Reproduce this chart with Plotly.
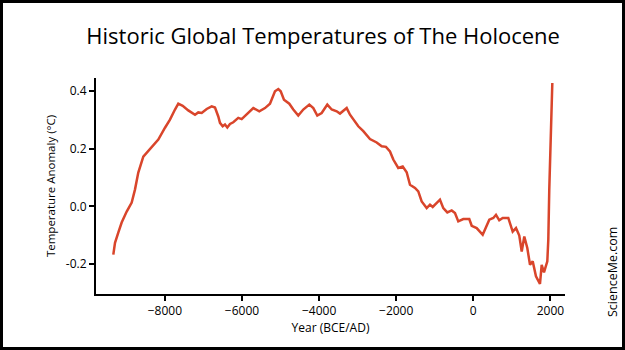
import plotly.graph_objects as go

years = [-9338, -9294, -9209, -9121, -8991, -8861, -8776, -8690, -8560, -8472,
         -8342, -8171, -7997, -7868, -7738, -7652, -7538, -7393, -7219, -7134,
         -7045, -6916, -6786, -6700, -6615, -6571, -6501, -6441, -6381, -6311,
         -6226, -6096, -6008, -5878, -5707, -5551, -5403, -5274, -5144, -5058,
         -4996, -4911, -4773, -4669, -4540, -4410, -4254, -4150, -4047, -3933,
         -3787, -3673, -3543, -3458, -3284, -3198, -2983, -2853, -2680, -2506,
         -2376, -2265, -2161, -2075, -1946, -1831, -1728, -1642, -1512, -1427,
         -1339, -1209, -1123, -1053, -934, -864, -778, -674, -560, -475,
         -389, -259, -104, -41, 88, 244, 415, 519, 589, 674,
         763, 908, 1022, 1108, 1193, 1256, 1323, 1401, 1471, 1541,
         1626, 1730, 1774, 1834, 1920, 1946, 1971, 2050]

anomaly = [-0.167, -0.126, -0.091, -0.056, -0.018, 0.013, 0.058, 0.117, 0.172, 0.186,
           0.203, 0.231, 0.272, 0.300, 0.335, 0.355, 0.348, 0.332, 0.317, 0.325,
           0.323, 0.337, 0.346, 0.342, 0.311, 0.289, 0.277, 0.283, 0.273, 0.285,
           0.291, 0.306, 0.302, 0.317, 0.340, 0.329, 0.340, 0.355, 0.398, 0.406,
           0.398, 0.369, 0.355, 0.335, 0.314, 0.335, 0.352, 0.340, 0.314, 0.323,
           0.352, 0.335, 0.329, 0.321, 0.340, 0.317, 0.277, 0.260, 0.233, 0.221,
           0.208, 0.206, 0.190, 0.162, 0.133, 0.138, 0.118, 0.075, 0.064, 0.052,
           0.017, -0.006, 0.006, -0.002, 0.012, 0.023, -0.006, -0.021, -0.014, -0.023,
           -0.052, -0.044, -0.044, -0.067, -0.075, -0.098, -0.046, -0.040, -0.029, -0.048,
           -0.040, -0.040, -0.087, -0.075, -0.101, -0.156, -0.104, -0.144, -0.202, -0.190,
           -0.242, -0.268, -0.202, -0.228, -0.190, -0.115, 0.058, 0.427]

x_ticks = [-8000, -6000, -4000, -2000, 0, 2000]
y_ticks = [-0.2, 0.0, 0.2, 0.4]
y_tick_labels = ["-0.2", "0.0", "0.2", "0.4"]

FONT = "Open Sans"
W, H = 625, 350
ML, MR, MT, MB = 96, 60, 78, 56
PW, PH = W - ML - MR, H - MT - MB

fig = go.Figure()
fig.add_trace(go.Scatter(x=years, y=anomaly, mode="lines",
                         line=dict(color="#d9452b", width=2.5),
                         hoverinfo="x+y", showlegend=False))

fig.update_layout(
    width=W, height=H,
    margin=dict(l=ML, r=MR, t=MT, b=MB),
    paper_bgcolor="white", plot_bgcolor="white",
    font=dict(family=FONT, color="black", size=12),
    title=dict(text="Historic Global Temperatures of The Holocene",
               x=0.517, xanchor="center", y=0.895, yanchor="middle",
               font=dict(family=FONT, size=22, color="black")),
    xaxis=dict(range=[-9787, 2379], tickvals=x_ticks,
               showline=True, linecolor="black", linewidth=2,
               ticks="outside", ticklen=5, tickwidth=1.5, tickcolor="black",
               showgrid=False, zeroline=False, tickfont=dict(size=12),
               title=dict(text="Year (BCE/AD)", font=dict(size=12), standoff=4)),
    yaxis=dict(range=[-0.303, 0.444], tickvals=y_ticks, ticktext=y_tick_labels,
               showline=True, linecolor="black", linewidth=2,
               ticks="outside", ticklen=5, tickwidth=1.5, tickcolor="black",
               showgrid=False, zeroline=False, tickfont=dict(size=12),
               title=dict(text="Temperature Anomaly (°C)", font=dict(size=11.5), standoff=8)),
)

# outer frame
fig.add_shape(type="rect", xref="paper", yref="paper",
              x0=(1.5 - ML) / PW, x1=(W - 1.5 - ML) / PW,
              y0=-(MB - 1.5) / PH, y1=1 + (MT - 1.5) / PH,
              line=dict(color="black", width=3), fillcolor="rgba(0,0,0,0)")

# watermark
fig.add_annotation(text="ScienceMe.com", xref="paper", yref="paper",
                   x=(612 - ML) / PW, y=1 - (272 - MT) / PH,
                   xanchor="center", yanchor="middle",
                   showarrow=False, textangle=-90,
                   font=dict(family=FONT, size=12.5, color="black"))

fig.write_html("out.html", config={"displayModeBar": False},
               post_script="document.body.style.margin='0';document.body.style.padding='0';document.body.style.overflow='hidden';")
